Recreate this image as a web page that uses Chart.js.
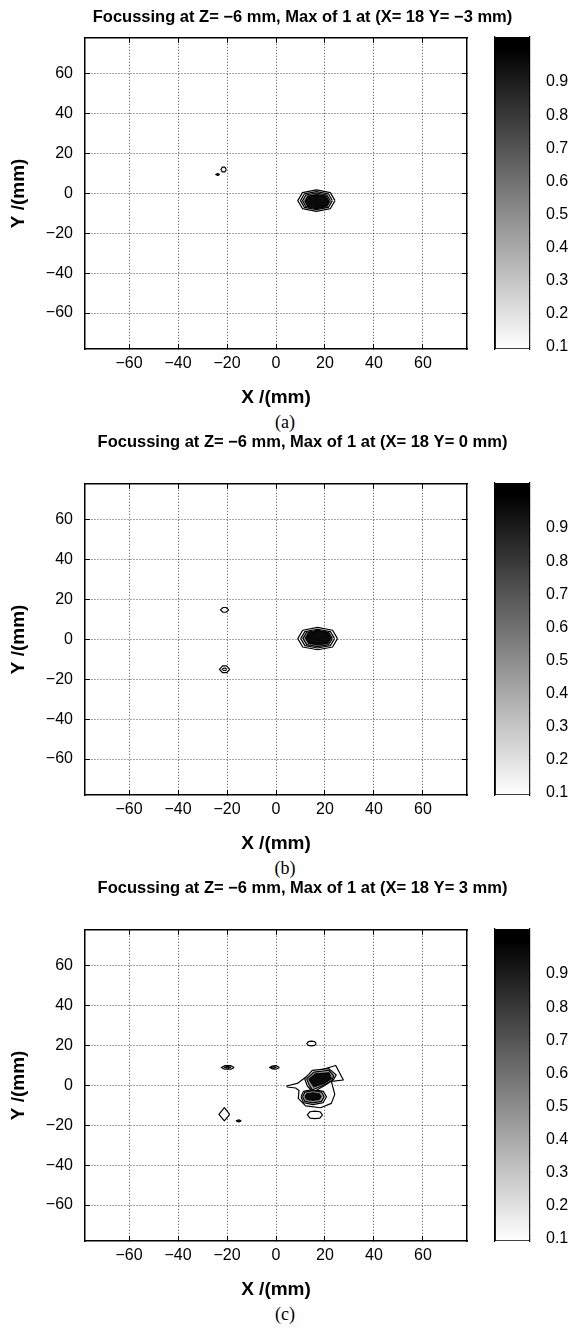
<!DOCTYPE html>
<html>
<head>
<meta charset="utf-8">
<script src="https://cdn.jsdelivr.net/npm/chart.js@4.4.1/dist/chart.umd.min.js"></script>
<style>
  html, body { margin: 0; padding: 0; background: #fff; overflow: hidden; }
  #fig { position: relative; width: 570px; height: 1328px; overflow: hidden; }
  .panel { position: absolute; left: 0; width: 570px; overflow: hidden; }
  .panel canvas { position: absolute; }
  .cap { position: absolute; left: 0; width: 570px; text-align: center;
         font-family: 'Liberation Serif', 'Times New Roman', serif; font-size: 18px; line-height: 20px; color: #000; }
</style>
</head>
<body>
<div id="fig"></div>
<script>
// axis and colorbar values
const xTicks = [-60, -40, -20, 0, 20, 40, 60];
const yTicks = [-60, -40, -20, 0, 20, 40, 60];
const axisRange = [-78, 78];
const cbTicks = [0.1, 0.2, 0.3, 0.4, 0.5, 0.6, 0.7, 0.8, 0.9];
const cbRange = [0.094, 1.036];

const titles = [
    'Focussing at Z= \u22126 mm, Max of 1 at (X= 18 Y= \u22123 mm)',
    'Focussing at Z= \u22126 mm, Max of 1 at (X= 18 Y= 0 mm)',
    'Focussing at Z= \u22126 mm, Max of 1 at (X= 18 Y= 3 mm)'
];
const captions = ['(a)', '(b)', '(c)'];

// contour rings: [level, x1, y1, x2, y2, ...] in mm
const contoursA = [
    [1, 24.1, -3.6, 22.2, 0.4, 16.5, 1.8, 10.8, 0.4, 8.9, -3.6, 10.8, -7.6, 16.5, -9.0, 22.2, -7.6],
    [2, 23.0, -3.6, 21.4, -0.2, 16.5, 0.9, 11.6, -0.2, 10.0, -3.6, 11.6, -7.0, 16.5, -8.1, 21.4, -7.0],
    [3, 22.2, -3.7, 20.8, -0.8, 16.5, 0.2, 12.2, -0.8, 10.8, -3.7, 12.2, -6.6, 16.5, -7.6, 20.8, -6.6],
    [4, 21.6, -3.9, 20.4, -1.4, 16.7, -0.6, 13.0, -1.4, 11.8, -3.9, 13.0, -6.4, 16.7, -7.2, 20.4, -6.4],
    [1, -20.3, 12, -20.9, 13.2, -21.9, 13.2, -22.5, 12, -21.9, 10.8, -20.9, 10.8],
    [4, -23.0, 9.5, -23.8, 10.0, -24.6, 9.5, -23.8, 9.0]
];
const contoursB = [
    [1, 25.1, 0.4, 23.1, 4.6, 17.0, 6.0, 10.9, 4.6, 8.9, 0.4, 10.9, -3.8, 17.0, -5.2, 23.1, -3.8],
    [2, 23.9, 0.4, 22.2, 3.9, 17.0, 5.1, 11.8, 3.9, 10.1, 0.4, 11.8, -3.1, 17.0, -4.3, 22.2, -3.1],
    [3, 23.0, 0.5, 21.5, 3.6, 17.0, 4.6, 12.5, 3.6, 11.0, 0.5, 12.5, -2.6, 17.0, -3.6, 21.5, -2.6],
    [4, 22.4, 0.7, 21.1, 3.3, 17.2, 4.2, 13.3, 3.3, 12.0, 0.7, 13.3, -1.9, 17.2, -2.8, 21.1, -1.9],
    [1, -19.3, 14.8, -20.4, 16.0, -21.6, 16.0, -22.7, 14.8, -21.6, 13.6, -20.4, 13.6],
    [1, -18.9, -15, -20.2, -13.3, -21.8, -13.3, -23.1, -15, -21.8, -16.7, -20.2, -16.7],
    [2, -20.0, -15, -20.7, -14.4, -21.3, -14.4, -22.0, -15, -21.3, -15.6, -20.7, -15.6]
];
const contoursC = [
    [1, 4.3, -0.3, 8.7, 1.0, 12.8, 4.7, 18.2, 7.7, 24.4, 10.0, 27.5, 2.7, 22.6, 2.0, 24.0, -4.5, 22.6, -9.0,
        18.2, -11.2, 12.1, -10.3, 9.1, -6.5, 9.4, -2.5, 8.0, -1.3, 4.6, -0.8],
    [2, 11.7, 3.3, 14.8, 7.5, 21.6, 8.4, 24.6, 5.2, 23.4, 2.8, 19.9, 0.0, 15.2, -3.3, 12.8, -0.3],
    [2, 10.2, -5.7, 11.2, -3.0, 15.1, -2.0, 19.3, -3.0, 20.6, -5.7, 19.3, -8.6, 15.1, -9.6, 11.2, -8.6],
    [3, 12.5, 3.3, 15.5, 6.7, 21.6, 7.6, 23.6, 4.8, 22.8, 2.4, 19.6, 0.2, 14.8, -2.3, 13.4, 0.5],
    [3, 10.8, -5.7, 11.8, -3.4, 15.1, -2.6, 18.6, -3.4, 19.7, -5.7, 18.6, -8.0, 15.1, -8.8, 11.8, -8.0],
    [4, 13.4, 3.0, 16.2, 5.8, 21.6, 6.3, 22.6, 3.5, 19.6, 1.0, 15.5, -0.7],
    [4, 11.8, -5.6, 12.6, -4.2, 15.1, -3.7, 17.6, -4.2, 18.4, -5.6, 17.6, -7.0, 15.1, -7.5, 12.6, -7.0],
    [1, 16.4, 21, 15.8, 21.9, 14.5, 22.2, 13.2, 21.9, 12.6, 21, 13.2, 20.1, 14.5, 19.8, 15.8, 20.1],
    [1, -17.1, 9, -18.4, 9.9, -21.0, 9.9, -22.3, 9, -21.0, 8.1, -18.4, 8.1],
    [3, -18.3, 9, -19.7, 9.5, -21.1, 9, -19.7, 8.5],
    [1, 1.4, 9, 0.0, 9.9, -1.6, 9.7, -2.6, 9, -1.6, 8.3, 0.0, 8.1],
    [3, 0.2, 9, -1.0, 9.5, -2.0, 9, -1.0, 8.5],
    [1, -18.9, -14.5, -21.1, -11.2, -23.3, -14.5, -21.1, -17.8],
    [3, -14.2, -17.8, -15.2, -17.3, -16.2, -17.8, -15.2, -18.3],
    [1, 19.0, -14.8, 17.9, -13.2, 15.9, -12.9, 13.9, -13.2, 12.8, -14.8, 13.9, -16.4, 15.9, -16.7, 17.9, -16.4]
];
const panelContours = [contoursA, contoursB, contoursC];

// layout
const panelTops = [0, 446, 892];
const titleGaps = [0, 21, 21];
const sans = "'Liberation Sans', Arial, Helvetica, sans-serif";
const levelFill = { 1: '#ffffff', 2: '#f6f6f6', 3: '#9a9a9a', 4: '#0a0a0a' };
const gridCol = 'rgba(0,0,0,0.7)';

Chart.defaults.font.family = sans;
Chart.defaults.color = '#000';

function tickText(v) {
    return v < 0 ? '\u2212' + Math.abs(v) : String(v);
}

function makeCanvas(parent, left, top, w, h) {
    const c = document.createElement('canvas');
    c.width = w;
    c.height = h;
    c.style.left = left + 'px';
    c.style.top = top + 'px';
    c.style.width = w + 'px';
    c.style.height = h + 'px';
    parent.appendChild(c);
    return c;
}

function ringDatasets(rings) {
    return rings.map(r => {
        const level = r[0];
        const pts = [];
        for (let i = 1; i < r.length; i += 2) pts.push({ x: r[i], y: r[i + 1] });
        pts.push({ x: r[1], y: r[2] });
        return {
            data: pts,
            showLine: true,
            fill: 'shape',
            backgroundColor: levelFill[level],
            borderColor: '#000',
            borderWidth: 1.2,
            borderJoinStyle: 'round',
            pointRadius: 0,
            tension: 0,
            order: 10 - level
        };
    });
}

function drawPanel(i) {
    const fig = document.getElementById('fig');
    const gap = titleGaps[i];
    const H = 410 + gap;
    const panel = document.createElement('div');
    panel.className = 'panel';
    panel.style.top = (panelTops[i] - gap) + 'px';
    panel.style.height = (H + 30) + 'px';
    fig.appendChild(panel);

    const main = makeCanvas(panel, 0, 0, 605, H);
    new Chart(main, {
        type: 'scatter',
        data: { datasets: ringDatasets(panelContours[i]) },
        options: {
            responsive: false,
            animation: false,
            events: [],
            layout: { padding: 0 },
            plugins: {
                legend: { display: false },
                tooltip: { enabled: false },
                title: {
                    display: true,
                    text: titles[i],
                    color: '#000',
                    font: { family: sans, size: 16.5, weight: 'bold' },
                    padding: { top: 8, bottom: 10 + gap }
                }
            },
            scales: {
                x: {
                    type: 'linear', position: 'bottom',
                    min: axisRange[0], max: axisRange[1],
                    afterBuildTicks: s => { s.ticks = xTicks.map(v => ({ value: v })); },
                    ticks: { callback: tickText, font: { size: 16 }, color: '#000', padding: 10, maxRotation: 0, autoSkip: false },
                    grid: { color: gridCol, lineWidth: 1, drawTicks: true, tickLength: -5, tickColor: '#000', tickWidth: 1 },
                    border: { display: true, color: '#000', width: 1.5, dash: [1, 2] },
                    title: { display: true, text: 'X /(mm)', color: '#000', font: { size: 19, weight: 'bold' }, padding: { top: 0, bottom: 1 } },
                    afterFit: s => { s.height = 61; }
                },
                y: {
                    type: 'linear', position: 'left',
                    min: axisRange[0], max: axisRange[1],
                    afterBuildTicks: s => { s.ticks = yTicks.map(v => ({ value: v })); },
                    ticks: { callback: tickText, font: { size: 16 }, color: '#000', padding: 17, autoSkip: false },
                    grid: { color: gridCol, lineWidth: 1, drawTicks: true, tickLength: -5, tickColor: '#000', tickWidth: 1 },
                    border: { display: true, color: '#000', width: 1.5, dash: [1, 2] },
                    title: { display: true, text: 'Y /(mm)', color: '#000', font: { size: 19, weight: 'bold' }, padding: { top: 7, bottom: 0 } },
                    afterFit: s => { s.width = 85; }
                },
                x2: {
                    type: 'linear', position: 'top',
                    min: axisRange[0], max: axisRange[1],
                    afterBuildTicks: s => { s.ticks = xTicks.map(v => ({ value: v })); },
                    ticks: { display: false },
                    grid: { drawOnChartArea: false, drawTicks: true, tickLength: -5, color: '#000', lineWidth: 1 },
                    border: { display: true, color: '#000', width: 1.5 },
                    afterFit: s => { s.height = 0; }
                },
                y2: {
                    type: 'linear', position: 'right',
                    min: axisRange[0], max: axisRange[1],
                    afterBuildTicks: s => { s.ticks = yTicks.map(v => ({ value: v })); },
                    ticks: { display: false },
                    grid: { drawOnChartArea: false, drawTicks: true, tickLength: -5, color: '#000', lineWidth: 1 },
                    border: { display: true, color: '#000', width: 1.5 },
                    afterFit: s => { s.width = 605 - 467; }
                }
            }
        }
    });

    // colorbar
    const cb = makeCanvas(panel, 480, 0, 90, H);
    new Chart(cb, {
        type: 'bar',
        data: {
            labels: [''],
            datasets: [{
                data: [[cbRange[0], cbRange[1]]],
                backgroundColor: c => {
                    const ch = c.chart;
                    if (!ch.chartArea) return '#888';
                    const y = ch.scales.y;
                    const g = ch.ctx.createLinearGradient(0, y.getPixelForValue(cbRange[0]), 0, y.getPixelForValue(1.0));
                    g.addColorStop(0, '#ffffff');
                    g.addColorStop(1, '#000000');
                    return g;
                },
                borderColor: '#000',
                borderWidth: 1.2,
                borderSkipped: false,
                barPercentage: 1,
                categoryPercentage: 1
            }]
        },
        options: {
            responsive: false,
            animation: false,
            events: [],
            layout: { padding: { left: 15, right: 0, top: 37 + gap, bottom: 61 } },
            plugins: { legend: { display: false }, tooltip: { enabled: false } },
            scales: {
                x: { display: false },
                y: {
                    position: 'right', min: cbRange[0], max: cbRange[1], z: 1,
                    afterBuildTicks: s => { s.ticks = cbTicks.map(v => ({ value: v })); },
                    ticks: { font: { size: 16 }, color: '#000', padding: 20, callback: v => v.toFixed(1) },
                    grid: { drawOnChartArea: false, drawTicks: true, tickLength: -4, color: '#000', lineWidth: 1 },
                    border: { display: true, color: '#000', width: 1.2 },
                    afterFit: s => { s.width = 40; }
                },
                yl: {
                    position: 'left', min: cbRange[0], max: cbRange[1], z: 1,
                    afterBuildTicks: s => { s.ticks = cbTicks.map(v => ({ value: v })); },
                    ticks: { display: false },
                    grid: { drawOnChartArea: false, drawTicks: true, tickLength: -4, color: '#000', lineWidth: 1 },
                    border: { display: true, color: '#000', width: 1.2 },
                    afterFit: s => { s.width = 0; }
                }
            }
        }
    });

    const cap = document.createElement('div');
    cap.className = 'cap';
    cap.style.top = (panelTops[i] + 412) + 'px';
    cap.textContent = captions[i];
    fig.appendChild(cap);
}

document.addEventListener('DOMContentLoaded', () => {
    for (let i = 0; i < 3; i++) drawPanel(i);
});
</script>
</body>
</html>
